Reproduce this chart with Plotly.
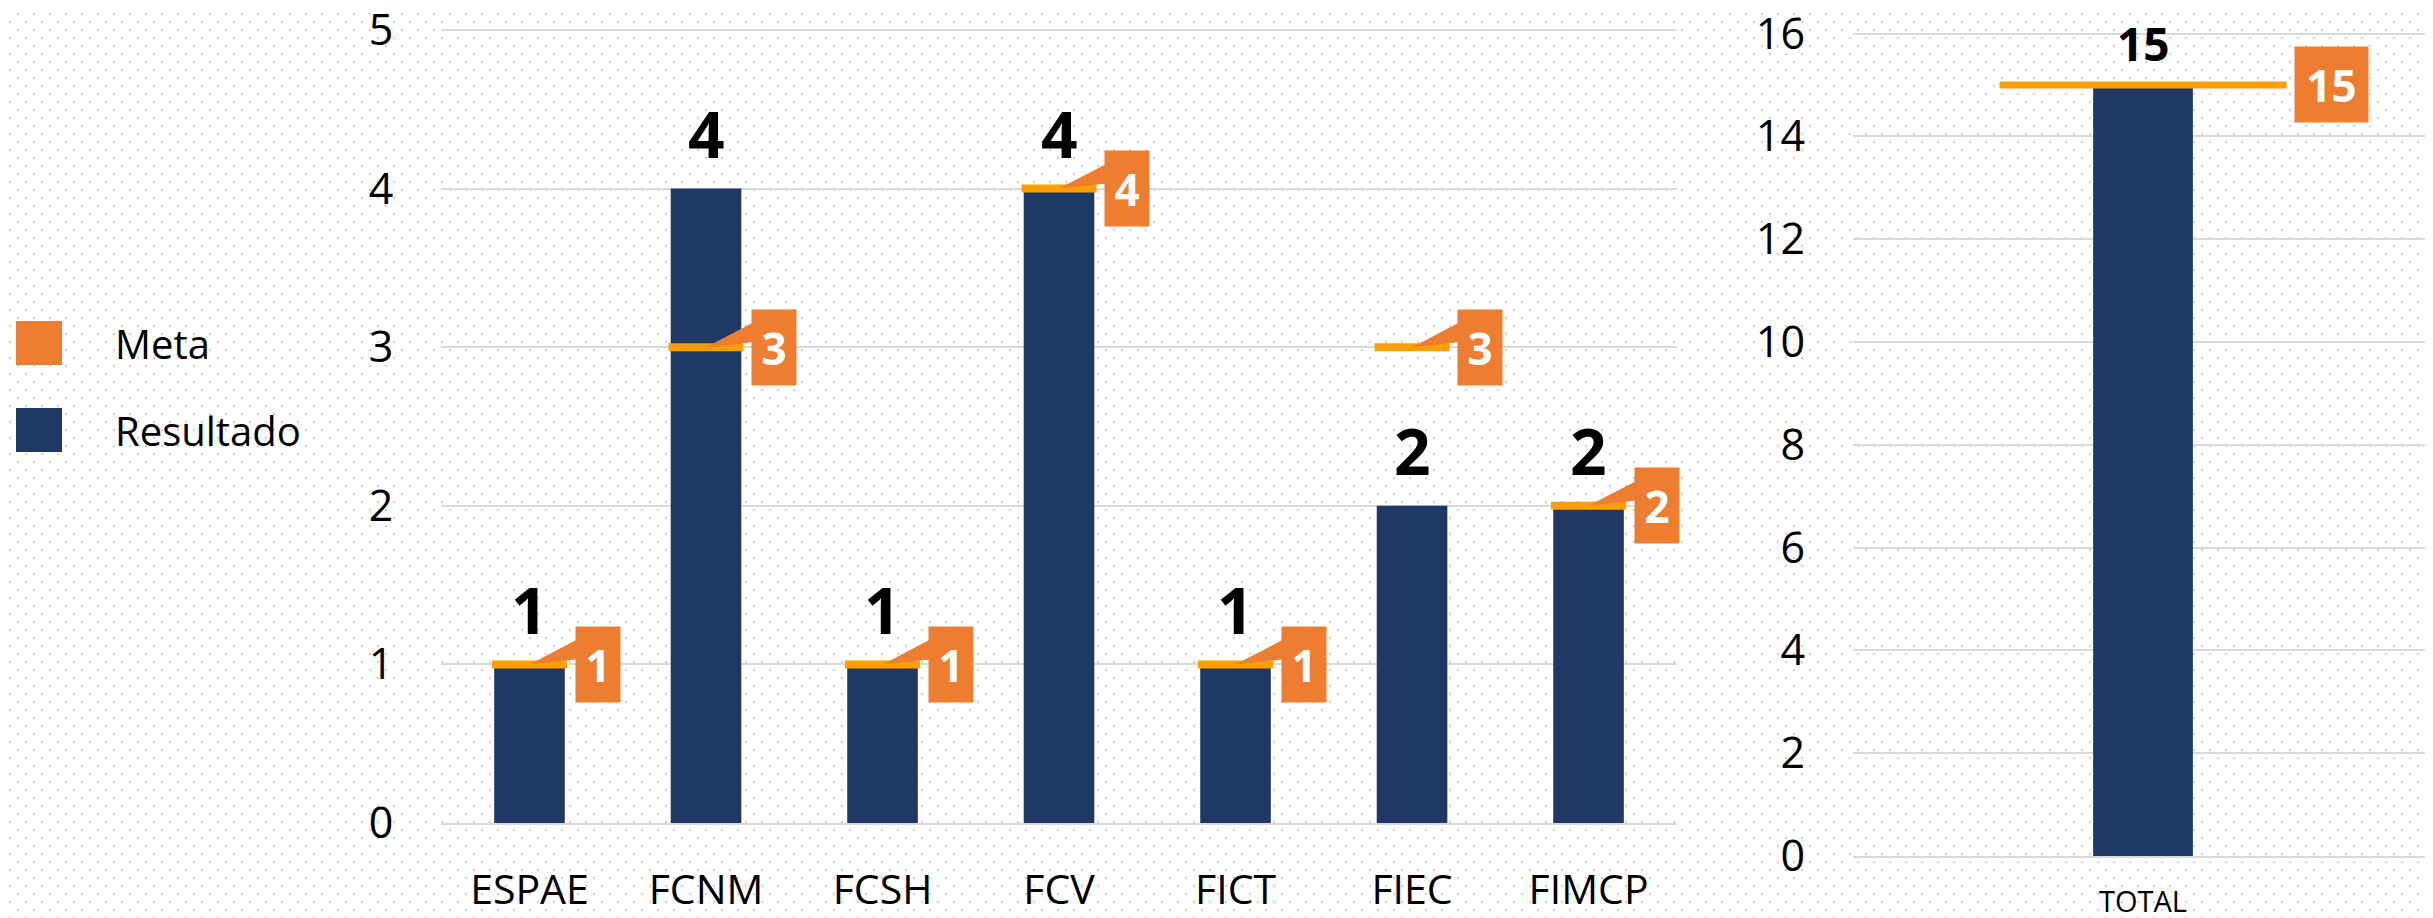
import base64
import plotly.graph_objects as go

# ---------------- data ----------------
categories = ["ESPAE", "FCNM", "FCSH", "FCV", "FICT", "FIEC", "FIMCP"]
resultado = [1, 4, 1, 4, 1, 2, 2]
meta = [1, 3, 1, 4, 1, 3, 2]

total_category = ["TOTAL"]
total_resultado = [15]
total_meta = [15]

left_ticks = [0, 1, 2, 3, 4, 5]
right_ticks = [0, 2, 4, 6, 8, 10, 12, 14, 16]

legend_labels = ["Meta", "Resultado"]

# ---------------- style ----------------
OFF = 8                      # page offset of the plot div (body margin)
W, H = 2433 - OFF, 918 - OFF  # figure size so the page fits the window
NAVY = "#203864"
LINE_ORANGE = "#FF9E00"
BOX_ORANGE = "#ED7D31"
GRID = "#D9D9D9"
FONT = "Open Sans"

def px_x(p):
    return (p - OFF) / W

def px_y(p):
    return 1 - (p - OFF) / H

# dotted background pattern (decoration)
svg = (
    f'<svg xmlns="http://www.w3.org/2000/svg" width="{W}" height="{H}">'
    '<defs><pattern id="d" width="16" height="16" patternUnits="userSpaceOnUse">'
    '<rect x="1" y="13" width="2" height="2" fill="#CFCFCF"/>'
    '<rect x="9" y="5" width="2" height="2" fill="#CFCFCF"/>'
    '</pattern></defs>'
    f'<rect width="{W}" height="{H}" fill="#FFFFFF"/>'
    f'<rect width="{W}" height="{H}" fill="url(#d)"/></svg>'
)
svg_uri = "data:image/svg+xml;base64," + base64.b64encode(svg.encode()).decode()

fig = go.Figure()

# ---------------- left panel ----------------
fig.add_trace(go.Bar(
    x=categories, y=resultado, name="Resultado",
    marker=dict(color=NAVY, line=dict(width=0)),
    width=0.40, xaxis="x", yaxis="y", showlegend=False,
))

# wedge pointers of callouts (overlay numeric axis on the same domain)
wx, wy = [], []
for i, v in enumerate(meta):
    wx += [i, i + 0.30, i + 0.30, i, None]
    wy += [v, v + 0.174, v + 0.036, v, None]
fig.add_trace(go.Scatter(
    x=wx, y=wy, mode="lines", fill="toself", fillcolor=BOX_ORANGE,
    line=dict(width=0, color=BOX_ORANGE), xaxis="x3", yaxis="y",
    showlegend=False, hoverinfo="skip",
))

# line-ew symbol length = 1.4 * size
fig.add_trace(go.Scatter(
    x=categories, y=meta, name="Meta", mode="markers",
    marker=dict(symbol="line-ew", size=75 / 1.4, line=dict(width=8, color=LINE_ORANGE)),
    xaxis="x", yaxis="y", showlegend=False,
))

# ---------------- right panel ----------------
fig.add_trace(go.Bar(
    x=total_category, y=total_resultado, name="Resultado",
    marker=dict(color=NAVY, line=dict(width=0)),
    width=0.172, xaxis="x2", yaxis="y2", showlegend=False,
))
fig.add_trace(go.Scatter(
    x=total_category, y=total_meta, name="Meta", mode="markers",
    marker=dict(symbol="line-ew", size=287 / 1.4, line=dict(width=7, color=LINE_ORANGE)),
    xaxis="x2", yaxis="y2", showlegend=False,
))

annotations = []
# value labels above bars (left)
for c, r in zip(categories, resultado):
    annotations.append(dict(
        x=c, y=r, xref="x", yref="y", text=f"<b>{r}</b>", showarrow=False,
        yshift=55, font=dict(family=FONT, size=64, color="black"),
    ))
# meta callouts (left)
for c, m in zip(categories, meta):
    annotations.append(dict(
        x=c, y=m, xref="x", yref="y", text=f"<b>{m}</b>", showarrow=False,
        xshift=68, bgcolor=BOX_ORANGE, width=42, height=73,
        font=dict(family=FONT, size=44, color="white"),
    ))
# right labels
for c, r in zip(total_category, total_resultado):
    annotations.append(dict(
        x=c, y=r, xref="x2", yref="y2", text=f"<b>{r}</b>", showarrow=False,
        yshift=42, font=dict(family=FONT, size=46, color="black"),
    ))
for c, m in zip(total_category, total_meta):
    annotations.append(dict(
        x=c, y=m, xref="x2", yref="y2", text=f"<b>{m}</b>", showarrow=False,
        xshift=188, bgcolor=BOX_ORANGE, width=71, height=73,
        font=dict(family=FONT, size=44, color="white"),
    ))

# manual legend
legend_colors = [BOX_ORANGE, NAVY]
legend_centers = [343, 430]
shapes = []
for lab, col, cy in zip(legend_labels, legend_colors, legend_centers):
    shapes.append(dict(
        type="rect", xref="paper", yref="paper",
        x0=px_x(16), x1=px_x(62), y0=px_y(cy + 22), y1=px_y(cy - 22),
        fillcolor=col, line=dict(width=0),
    ))
    annotations.append(dict(
        x=px_x(113), y=px_y(cy), xref="paper", yref="paper", text=lab,
        showarrow=False, xanchor="left", yanchor="middle",
        font=dict(family=FONT, size=40, color="black"),
    ))

axis_common = dict(zeroline=False, ticks="", fixedrange=True, automargin=False,
                   ticklabeloverflow="allow")

# left value axis: 0 at px 823, 158.6 px per unit; small headroom keeps top gridline
L_TOP = 5.05
R_TOP = 16.1

fig.update_layout(
    width=W, height=H,
    margin=dict(l=0, r=0, t=0, b=0, pad=0, autoexpand=False),
    paper_bgcolor="white",
    plot_bgcolor="rgba(0,0,0,0)",
    font=dict(family=FONT, color="black"),
    showlegend=False,
    images=[dict(
        source=svg_uri, xref="paper", yref="paper", x=0, y=1,
        sizex=1, sizey=1, xanchor="left", yanchor="top",
        sizing="stretch", layer="below",
    )],
    xaxis=dict(
        domain=[px_x(441.25), px_x(1676.8)], type="category",
        categoryorder="array", categoryarray=categories,
        range=[-0.5, len(categories) - 0.5],
        showgrid=False, showline=True, linecolor=GRID, linewidth=2,
        tickfont=dict(size=41, family=FONT, color="black"),
        ticklabelstandoff=30, anchor="y", **axis_common,
    ),
    xaxis3=dict(
        overlaying="x", range=[-0.5, len(categories) - 0.5],
        visible=False, anchor="y", fixedrange=True,
    ),
    yaxis=dict(
        domain=[px_y(823), px_y(823 - 158.6 * L_TOP)], range=[0, L_TOP],
        tickvals=left_ticks, showgrid=True, gridcolor=GRID, gridwidth=2,
        showline=False,
        tickfont=dict(size=43, family=FONT, color="black"),
        ticklabelstandoff=47, anchor="x", **axis_common,
    ),
    xaxis2=dict(
        domain=[px_x(1853), 1.0], type="category",
        range=[-0.5, 0.5],
        showgrid=False, showline=True, linecolor=GRID, linewidth=2,
        tickfont=dict(size=29, family=FONT, color="black"),
        ticklabelstandoff=19, anchor="y2", **axis_common,
    ),
    yaxis2=dict(
        domain=[px_y(856), px_y(856 - 51.4 * R_TOP)], range=[0, R_TOP],
        tickvals=right_ticks, showgrid=True, gridcolor=GRID, gridwidth=2,
        showline=False,
        tickfont=dict(size=43, family=FONT, color="black"),
        ticklabelstandoff=47, anchor="x2", **axis_common,
    ),
    annotations=annotations,
    shapes=shapes,
)

fig.write_html("out.html")
